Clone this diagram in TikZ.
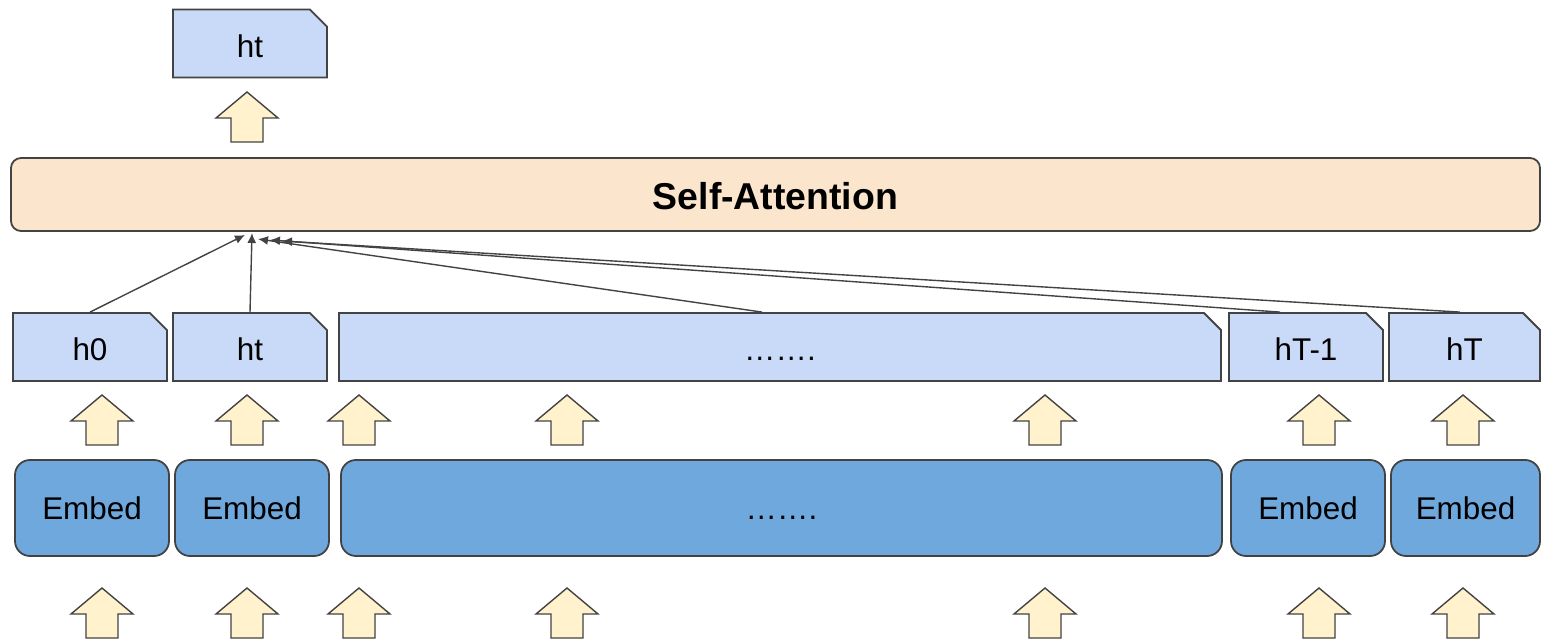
\documentclass[tikz,border=0pt]{standalone}
\usepackage{fontspec}
\setmainfont{Liberation Sans}
\usetikzlibrary{shapes.misc,arrows.meta,calc}
\definecolor{hfill}{HTML}{C9DAF8}
\definecolor{efill}{HTML}{6FA8DC}
\definecolor{safill}{HTML}{FCE5CD}
\definecolor{afill}{HTML}{FFF2CC}
\definecolor{lc}{HTML}{434343}
\tikzset{
  hbox/.style={chamfered rectangle, chamfered rectangle corners=north east,
    chamfered rectangle xsep=5pt, draw=lc, line width=0.9pt, fill=hfill,
    minimum height=34pt, inner sep=0pt, text height=14pt, text depth=0pt,
    font=\fontsize{15.7}{18}\selectfont},
  ebox/.style={rectangle, rounded corners=7.5pt, draw=lc, line width=0.9pt, fill=efill,
    minimum height=48pt, inner sep=0pt, text height=12pt, text depth=0pt,
    font=\fontsize{15.7}{18}\selectfont},
  sabox/.style={rectangle, rounded corners=5pt, draw=lc, line width=0.9pt, fill=safill,
    inner sep=0pt, text height=15pt, text depth=0pt, font=\fontsize{18.7}{21}\selectfont\bfseries},
  conn/.style={draw=lc, line width=0.7pt, -{Latex[length=5pt,width=4.5pt]}},
  uparr/.pic={\draw[draw=lc, line width=0.7pt, fill=afill, line join=miter]
    (0,0) -- (31,26) -- (16,26) -- (16,50) -- (-16,50) -- (-16,26) -- (-31,26) -- cycle;}
}
\begin{document}
\begin{tikzpicture}[x=0.5pt,y=-0.5pt]
\useasboundingbox (0,0) rectangle (1541,640);
% top output
\node[hbox, minimum width=77pt] (out) at (250,43.5) {ht};
\pic at (247,92) {uparr};
% self-attention
\node[sabox, minimum width=764.5pt, minimum height=36.5pt] (sa) at (775.5,194.5) {Self-Attention};
% h row
\node[hbox, minimum width=77pt] (h0) at (90,347) {h0};
\node[hbox, minimum width=77pt] (ht) at (250,347) {ht};
\node[hbox, minimum width=441pt] (hd) at (780,347) {…….};
\node[hbox, minimum width=77pt] (hT1) at (1306,347) {hT-1};
\node[hbox, minimum width=75.5pt] (hT) at (1464.5,347) {hT};
% middle arrows
\foreach \x in {102,247,359,567,1045,1319,1463} \pic at (\x,395) {uparr};
% embed row
\node[ebox, minimum width=77pt] (e0) at (92,508) {Embed};
\node[ebox, minimum width=77pt] (e1) at (252,508) {Embed};
\node[ebox, minimum width=440.5pt] (ed) at (781.5,508) {…….};
\node[ebox, minimum width=77pt] (e3) at (1308,508) {Embed};
\node[ebox, minimum width=74.5pt] (e4) at (1465.5,508) {Embed};
% bottom arrows
\foreach \x in {102,247,359,567,1045,1319,1463} \pic at (\x,588) {uparr};
% attention connectors
\coordinate (t1) at (245,235);
\coordinate (t2) at (252,233);
\coordinate (t3) at (258,239);
\coordinate (t4) at (270,240);
\coordinate (t5) at (282,241);
\draw[conn] (h0.north) -- (t1);
\draw[conn] (ht.north) -- (t2);
\draw[conn] ($(hd.north)+(-18,0)$) -- (t3);
\draw[conn] ($(hT1.north)+(-26,0)$) -- (t4);
\draw[conn] ($(hT.north)+(-4.5,0)$) -- (t5);
\end{tikzpicture}
\end{document}
